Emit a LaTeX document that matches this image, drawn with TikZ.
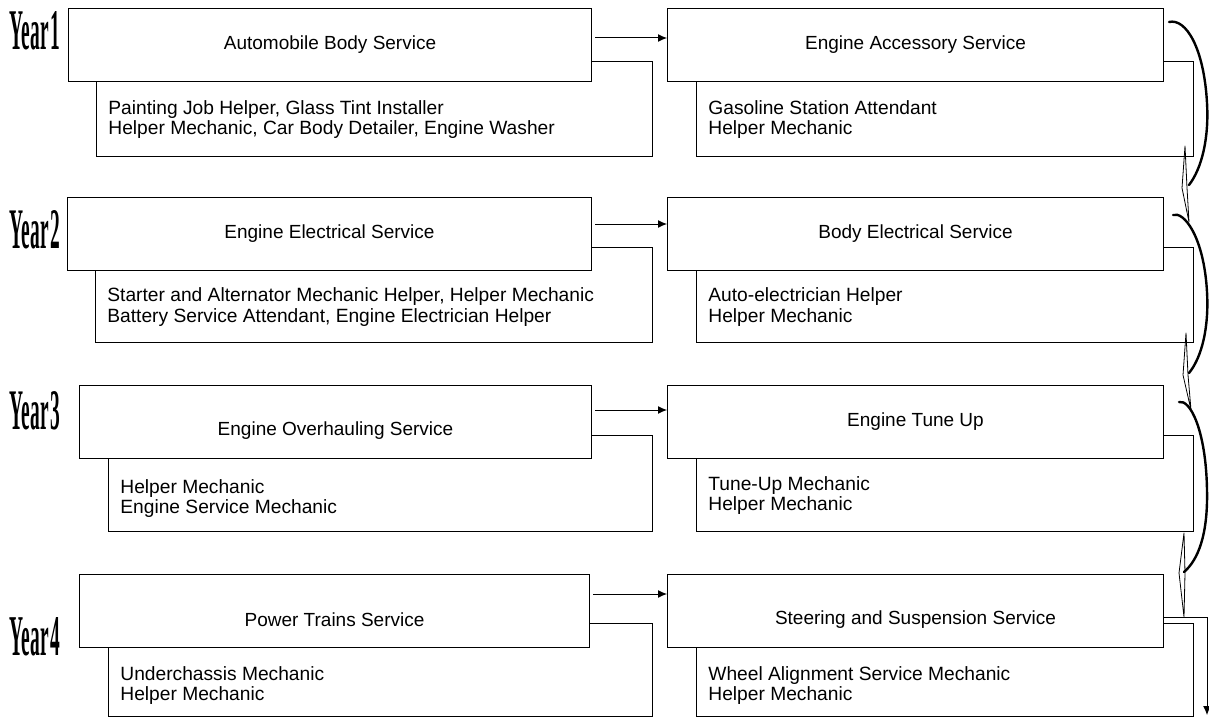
\documentclass[tikz,border=0pt]{standalone}
\usepackage{fontspec}
\setmainfont{Liberation Sans}
\newfontfamily\yearfont{Liberation Serif}
\usetikzlibrary{arrows.meta, positioning, calc}

\tikzset{
  mainbox/.style={draw, fill=white, anchor=north west, minimum height=36.5pt, inner sep=0pt, line width=0.5pt, font=\fontsize{9.5}{10}\selectfont},
  subbox/.style={draw, anchor=north west, minimum height=47.5pt, inner sep=0pt, line width=0.5pt},
  jobs/.style={anchor=west, xshift=6pt, align=left, inner sep=0pt, font=\fontsize{9.6}{10.2}\selectfont},
  yearlbl/.style={inner sep=0pt},
  flow/.style={-{Latex[length=4.5pt,width=4pt]}, line width=0.5pt},
  sweep/.style={line width=1.2pt, line cap=round},
  shaft/.style={line width=0.4pt, line join=round},
}
\newcommand{\yr}[1]{\resizebox{25pt}{19pt}{\yearfont\bfseries Year\hspace{0.08em}#1}}
\newcommand{\low}[1]{\raisebox{-4.4pt}[\height][\depth]{#1}}

\begin{document}
\begin{tikzpicture}[x=0.5pt, y=-0.5pt]
  \useasboundingbox (0,0) rectangle (1209,717);

  % Year 1
  \node[subbox, minimum width=278pt] (l1s) at (96,61) {};
  \node[mainbox, minimum width=261.5pt] (l1) at (68,8) {Automobile Body Service};
  \node[subbox, minimum width=248.5pt] (r1s) at (696,61) {};
  \node[mainbox, minimum width=248pt] (r1) at (667,8) {Engine Accessory Service};
  \node[yearlbl] (y1) at (35,31) {\yr{1}};
  \node[jobs] (l1j) at ($(l1s.south west)!0.5!(l1s.south west |- l1.south)$) {Painting Job Helper, Glass Tint Installer\\Helper Mechanic, Car Body Detailer, Engine Washer};
  \node[jobs] (r1j) at ($(r1s.south west)!0.5!(r1s.south west |- r1.south)$) {Gasoline Station Attendant\\Helper Mechanic};
  \draw[flow] ([shift={(3,30)}]l1.north east) -- ([yshift=-15pt]r1.north west);

  % Year 2
  \node[subbox, minimum width=278.5pt] (l2s) at (95,247) {};
  \node[mainbox, minimum width=262pt] (l2) at (67,197) {Engine Electrical Service};
  \node[subbox, minimum width=248.5pt] (r2s) at (696,247) {};
  \node[mainbox, minimum width=248pt] (r2) at (667,197) {Body Electrical Service};
  \node[yearlbl] (y2) at (35,230) {\yr{2}};
  \node[jobs] (l2j) at ($(l2s.south west)!0.5!(l2s.south west |- l2.south)$) {Starter and Alternator Mechanic Helper, Helper Mechanic\\Battery Service Attendant, Engine Electrician Helper};
  \node[jobs] (r2j) at ($(r2s.south west)!0.5!(r2s.south west |- r2.south)$) {Auto-electrician Helper\\Helper Mechanic};
  \draw[flow] ([shift={(3,27)}]l2.north east) -- ([yshift=-13.5pt]r2.north west);

  % Year 3
  \node[subbox, minimum width=272pt, minimum height=48pt] (l3s) at (108,435) {};
  \node[mainbox, minimum width=256pt] (l3) at (79,385) {\low{Engine Overhauling Service}};
  \node[subbox, minimum width=248.5pt, minimum height=48pt] (r3s) at (696,435) {};
  \node[mainbox, minimum width=248pt] (r3) at (667,385) {Engine Tune Up};
  \node[yearlbl] (y3) at (35,411) {\yr{3}};
  \node[jobs, yshift=-1.5pt] (l3j) at ($(l3s.south west)!0.5!(l3s.south west |- l3.south)$) {Helper Mechanic\\Engine Service Mechanic};
  \node[jobs] (r3j) at ($(r3s.south west)!0.5!(r3s.south west |- r3.south)$) {Tune-Up Mechanic\\Helper Mechanic};
  \draw[flow] ([shift={(3,25)}]l3.north east) -- ([yshift=-12.5pt]r3.north west);

  % Year 4
  \node[subbox, minimum width=272pt, minimum height=46.5pt] (l4s) at (108,623) {};
  \node[mainbox, minimum width=255pt] (l4) at (79,574) {\low{Power Trains Service}};
  \node[subbox, minimum width=248.5pt, minimum height=46.5pt] (r4s) at (696,623) {};
  \node[mainbox, minimum width=248pt] (r4) at (667,574) {\low{Steering and Suspension Service}};
  \node[yearlbl] (y4) at (35,637) {\yr{4}};
  \node[jobs, yshift=-1.5pt] (l4j) at ($(l4s.south west)!0.5!(l4s.south west |- l4.south)$) {Underchassis Mechanic\\Helper Mechanic};
  \node[jobs, yshift=-1.5pt] (r4j) at ($(r4s.south west)!0.5!(r4s.south west |- r4.south)$) {Wheel Alignment Service Mechanic\\Helper Mechanic};
  \draw[flow] ([shift={(3,20)}]l4.north east) -- ([yshift=-10pt]r4.north west);

  % hand drawn links between the years
  \begin{scope}[shift={(r1.north east)}]
    \draw[sweep] (5,14) .. controls (22,10) and (40,40) .. (43,95) .. controls (45,130) and (38,160) .. (25,177);
    \draw[shaft] (21,138) -- (18,180) -- (25,214) -- (23,180) -- cycle;
  \end{scope}
  \begin{scope}[shift={(r2.north east)}]
    \draw[sweep] (9,18) .. controls (20,14) and (40,40) .. (43,95) .. controls (45,130) and (38,160) .. (25,176);
    \draw[shaft] (22,136) -- (19,178) -- (27,213) -- (24,178) -- cycle;
  \end{scope}
  \begin{scope}[shift={(r3.north east)}]
    \draw[sweep] (15,17) .. controls (26,14) and (42,45) .. (43,105) .. controls (44,150) and (34,175) .. (20,187);
    \draw[shaft] (20,148) -- (15,188) -- (20,232) -- (21,188) -- cycle;
  \end{scope}
  \coordinate (out) at (1207,715);
  \draw[flow] ([yshift=-21.5pt]r4.north east) -| (out);
\end{tikzpicture}
\end{document}
